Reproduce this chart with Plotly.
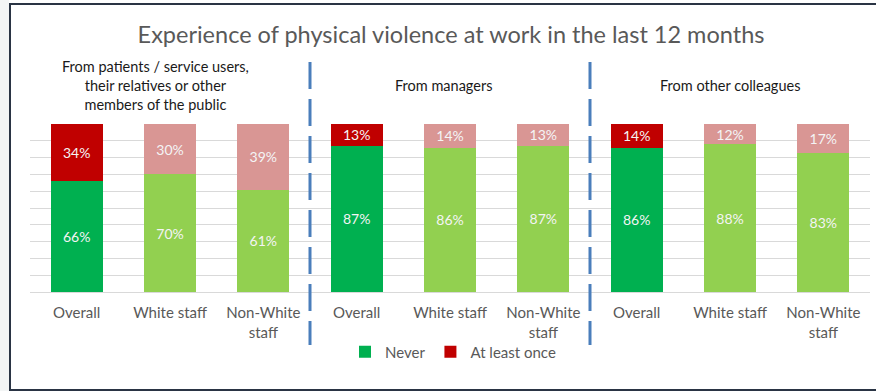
import plotly.graph_objects as go

# Survey results: share of staff experiencing physical violence at work
groups = ["Overall", "White staff", "Non-White<br>staff"] * 3
never = [66, 70, 61, 87, 86, 87, 86, 88, 83]
at_least_once = [34, 30, 39, 13, 14, 13, 14, 12, 17]
is_overall = [True, False, False] * 3
sources = [
    "From patients / service users,<br>their relatives or other<br>members of the public",
    "From managers",
    "From other colleagues",
]
title_text = "Experience of physical violence at work in the last 12 months"

FONT = "Lato, Open Sans, sans-serif"
GREY_TEXT = "#595959"

x = list(range(len(groups)))
never_colors = ["#00B050" if o else "#92D050" for o in is_overall]
once_colors = ["#C00000" if o else "#D99694" for o in is_overall]

fig = go.Figure()
fig.add_trace(go.Bar(
    x=x, y=never, name="Never",
    marker=dict(color=never_colors, line=dict(width=0)),
    text=[f"{v}%" for v in never], textposition="inside",
    insidetextanchor="middle", textangle=0, constraintext="none",
    textfont=dict(family=FONT, size=14, color="#F4F4F4"),
))
fig.add_trace(go.Bar(
    x=x, y=at_least_once, name="At least once",
    marker=dict(color=once_colors, line=dict(width=0)),
    text=[f"{v}%" for v in at_least_once], textposition="inside",
    insidetextanchor="middle", textangle=0, constraintext="none",
    textfont=dict(family=FONT, size=14, color="#F4F4F4"),
))

# plot area spans pixels 30..870 horizontally and 124..292 vertically
PX_L, PX_R, PX_T, PX_B = 30, 870, 124, 292
def px_x(p):
    return (p - PX_L) / (PX_R - PX_L)
def px_y(p):
    return (PX_B - p) / (PX_B - PX_T)

shapes = []
# outer frame
shapes.append(dict(type="rect", xref="paper", yref="paper",
                   x0=px_x(0), x1=px_x(9), y0=px_y(400), y1=px_y(-5),
                   fillcolor="#F3F5F5", line=dict(width=0), layer="below"))
shapes.append(dict(type="rect", xref="paper", yref="paper",
                   x0=px_x(10), x1=px_x(890), y0=px_y(390), y1=px_y(4),
                   fillcolor="rgba(0,0,0,0)", line=dict(color="#2A3444", width=2),
                   layer="above"))
# dashed dividers between the three sources
for k in range(1, len(sources)):
    xb = 3 * k - 0.5
    shapes.append(dict(type="line", xref="x", yref="paper",
                       x0=xb, x1=xb, y0=px_y(62), y1=px_y(345),
                       line=dict(color="#4A7EBB", width=3, dash="27px,10px")))

annotations = []
header_x = [0.84, 3.93, 7.0]
for hx, s in zip(header_x, sources):
    annotations.append(dict(text=s, x=hx, xref="x", y=px_y(86), yref="paper",
                            showarrow=False, xanchor="center", yanchor="middle",
                            font=dict(family=FONT, size=14.5, color="#1A1A1A")))

fig.update_layout(
    width=876, height=391,
    margin=dict(l=PX_L, r=876 - PX_R, t=PX_T, b=391 - PX_B),
    paper_bgcolor="white", plot_bgcolor="white",
    barmode="stack", bargap=0.44,
    title=dict(text=title_text, x=451 / 876, xanchor="center",
               y=1 - 35 / 391, yanchor="middle",
               font=dict(family=FONT, size=23.5, color=GREY_TEXT)),
    showlegend=True,
    legend=dict(orientation="h", x=px_x(453), xanchor="center",
                y=px_y(352), yanchor="middle", traceorder="normal",
                font=dict(family=FONT, size=15, color=GREY_TEXT),
                itemwidth=30, bgcolor="rgba(0,0,0,0)"),
    shapes=shapes, annotations=annotations,
)
fig.update_xaxes(tickvals=x, ticktext=groups, range=[-0.5, len(groups) - 0.5],
                 showline=True, linecolor="#D9D9D9", linewidth=1,
                 ticks="", showgrid=False, zeroline=False, ticklabelstandoff=7,
                 tickfont=dict(family=FONT, size=15, color=GREY_TEXT))
fig.update_yaxes(range=[0, 100], dtick=10, showgrid=True, gridcolor="#D9D9D9",
                 gridwidth=1, showticklabels=False, zeroline=False, showline=False)

fig.write_html("out.html")
